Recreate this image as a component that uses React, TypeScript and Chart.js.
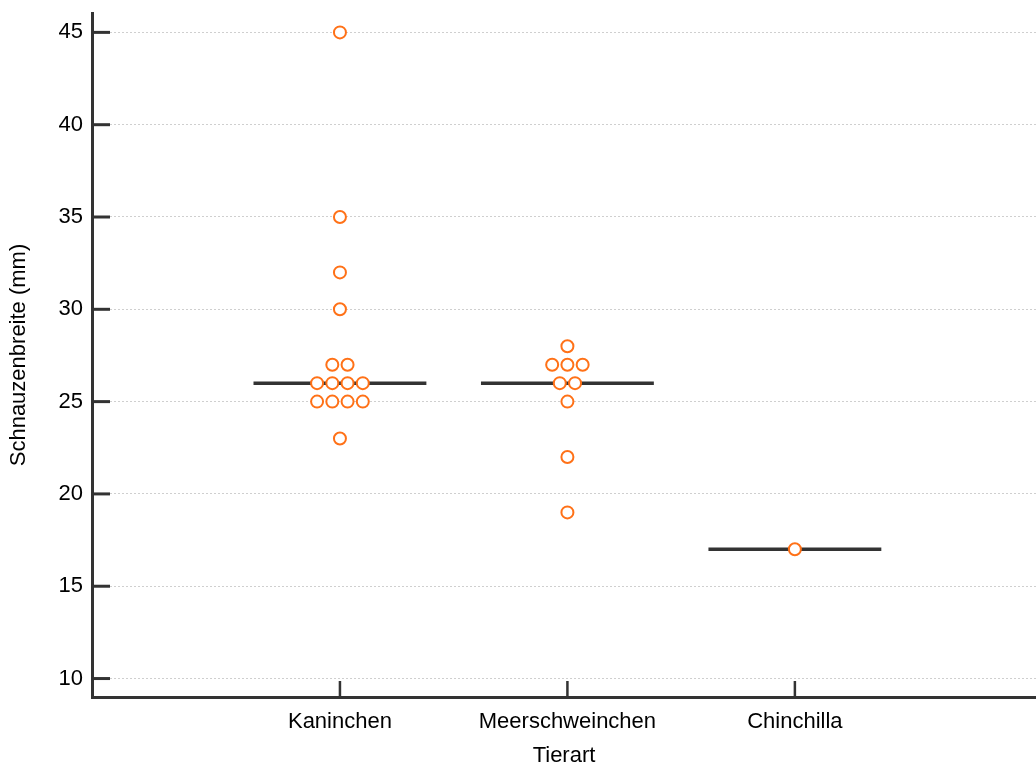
import React, { useEffect, useRef } from "react";
import { Chart, registerables } from "chart.js";

Chart.register(...registerables);

const categories = ["Kaninchen", "Meerschweinchen", "Chinchilla"];
const kaninchen = [45, 35, 32, 30, 27, 27, 26, 26, 26, 26, 25, 25, 25, 25, 23];
const meerschweinchen = [28, 27, 27, 27, 26, 26, 25, 22, 19];
const chinchilla = [17];
const seriesValues = [kaninchen, meerschweinchen, chinchilla];
const yTicks = [10, 15, 20, 25, 30, 35, 40, 45];
const yAxisTitle = "Schnauzenbreite (mm)";
const xAxisTitle = "Tierart";

const FONT = "'Liberation Sans', Arial, sans-serif";
const ORANGE = "#ff7117";
const DARK = "#333333";
const STEP = 0.067; // horizontal spacing between equal values (x units)
const HALF_MEDIAN = 0.38;

function median(vals: number[]): number {
  const s = [...vals].sort((a, b) => a - b);
  const m = Math.floor(s.length / 2);
  return s.length % 2 ? s[m] : (s[m - 1] + s[m]) / 2;
}

function swarm(vals: number[], cat: number) {
  const groups = new Map<number, number>();
  vals.forEach((v) => groups.set(v, (groups.get(v) || 0) + 1));
  const pts: { x: number; y: number }[] = [];
  groups.forEach((n, v) => {
    for (let i = 0; i < n; i++) {
      pts.push({ x: cat + (i - (n - 1) / 2) * STEP, y: v });
    }
  });
  return pts;
}

const innerTicks = {
  id: "innerTicks",
  afterDraw(chart: any) {
    const { ctx, chartArea, scales } = chart;
    ctx.save();
    ctx.strokeStyle = DARK;
    ctx.lineWidth = 3;
    yTicks.forEach((t) => {
      const y = scales.y.getPixelForValue(t);
      ctx.beginPath();
      ctx.moveTo(chartArea.left, y);
      ctx.lineTo(chartArea.left + 18, y);
      ctx.stroke();
    });
    ctx.lineWidth = 2.5;
    categories.forEach((_, i) => {
      const x = scales.x.getPixelForValue(i);
      ctx.beginPath();
      ctx.moveTo(x, chartArea.bottom);
      ctx.lineTo(x, chartArea.bottom - 16);
      ctx.stroke();
    });
    ctx.restore();
  },
};

export default function App() {
  const ref = useRef<HTMLCanvasElement>(null);
  useEffect(() => {
    document.body.style.margin = "0";
    const datasets: any[] = [];
    seriesValues.forEach((vals, i) => {
      const m = median(vals);
      datasets.push({
        type: "line",
        data: [
          { x: i - HALF_MEDIAN, y: m },
          { x: i + HALF_MEDIAN, y: m },
        ],
        borderColor: DARK,
        borderWidth: 3.5,
        pointRadius: 0,
        fill: false,
        order: 2,
      });
    });
    seriesValues.forEach((vals, i) => {
      datasets.push({
        type: "scatter",
        data: swarm(vals, i),
        borderColor: ORANGE,
        backgroundColor: "#ffffff",
        pointRadius: 6,
        pointBorderWidth: 2,
        order: 1,
      });
    });
    const chart = new Chart(ref.current!, {
      type: "scatter",
      data: { datasets },
      plugins: [innerTicks],
      options: {
        animation: false,
        responsive: false,
        layout: { autoPadding: false, padding: { top: 13, left: 0, right: 0, bottom: 0 } },
        plugins: { legend: { display: false }, tooltip: { enabled: false } },
        scales: {
          x: {
            type: "linear",
            min: -1.09,
            max: 3.06,
            afterBuildTicks: (s: any) => {
              s.ticks = categories.map((_, i) => ({ value: i }));
            },
            afterFit: (s: any) => {
              s.height = 67;
              s.paddingLeft = 0;
              s.paddingRight = 0;
            },
            ticks: {
              callback: (v: any) => categories[v as number] ?? "",
              color: "#000",
              font: { family: FONT, size: 22 },
              padding: 12,
              maxRotation: 0,
              autoSkip: false,
            },
            grid: { display: false, drawTicks: false },
            border: { display: true, color: DARK, width: 3 },
            title: {
              display: true,
              text: xAxisTitle,
              color: "#000",
              font: { family: FONT, size: 22, lineHeight: 0.73 },
              padding: { top: 0, bottom: 0 },
            },
          },
          y: {
            type: "linear",
            min: 9,
            max: 46.05,
            afterBuildTicks: (s: any) => {
              s.ticks = yTicks.map((v) => ({ value: v }));
            },
            afterFit: (s: any) => {
              s.width = 92;
              s.paddingTop = 0;
              s.paddingBottom = 0;
            },
            ticks: {
              color: "#000",
              font: { family: FONT, size: 22 },
              padding: 9,
            },
            grid: { display: true, drawTicks: false, color: "#cfcfcf", lineWidth: 1 },
            border: { display: true, color: DARK, width: 3, dash: [2, 2] },
            title: {
              display: true,
              text: yAxisTitle,
              color: "#000",
              font: { family: FONT, size: 22 },
              padding: { top: 6, bottom: 0 },
            },
          },
        },
      },
    });
    return () => chart.destroy();
  }, []);
  return (
    <div style={{ position: "fixed", left: 0, top: 0, width: 1036, height: 764 }}>
      <canvas ref={ref} width={1036} height={764} style={{ width: 1036, height: 764 }} />
    </div>
  );
}
